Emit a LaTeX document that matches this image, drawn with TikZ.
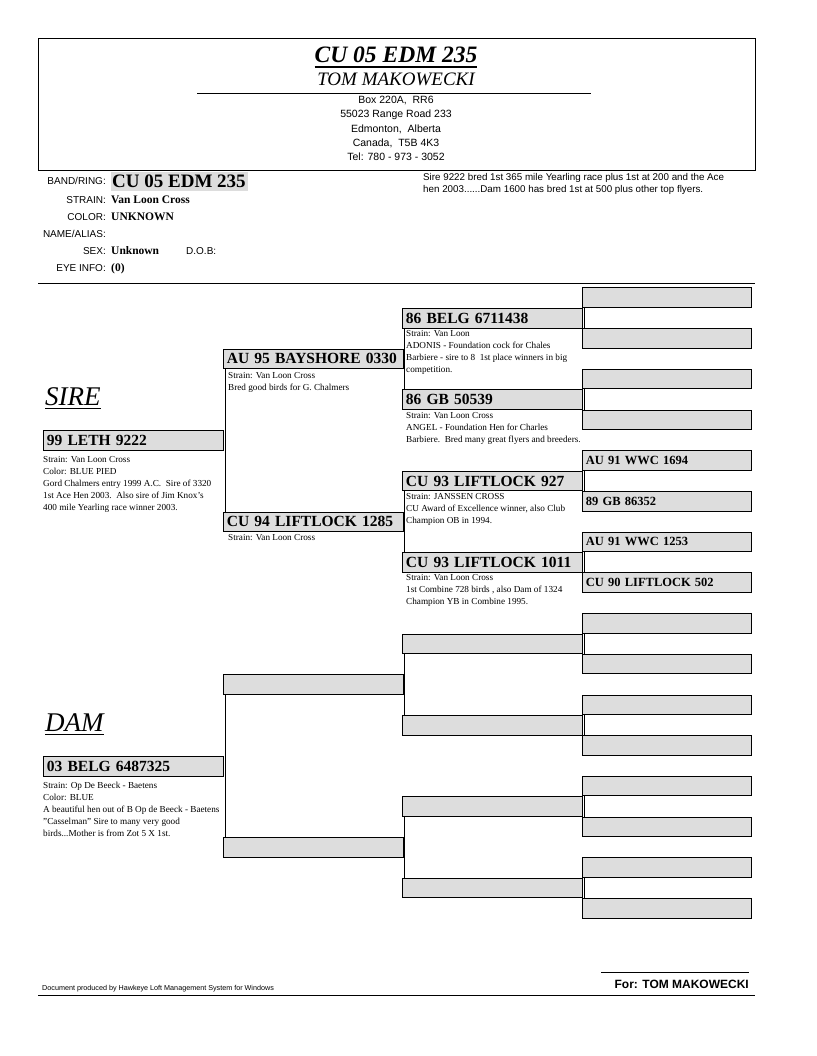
\documentclass[tikz,border=0pt]{standalone}
\usepackage{fontspec}
\setmainfont{Liberation Serif}
\setsansfont{Liberation Sans}
\definecolor{boxgray}{HTML}{DDDDDD}
\begin{document}
\begin{tikzpicture}[x=1pt,y=-1pt,
 pbox/.style={draw=black,line width=0.9pt,fill=boxgray,anchor=north west,minimum height=19.5pt,inner xsep=3.5pt,inner ysep=0pt,align=left},
 bigname/.style={pbox,text width=173pt,font=\fontsize{15.5}{16}\selectfont\bfseries},
 smallname/.style={pbox,text width=162pt,font=\fontsize{12.5}{13}\selectfont\bfseries},
 note/.style={anchor=north west,inner sep=0pt,align=left,font=\fontsize{9.2}{12}\selectfont},
 lbl/.style={anchor=base east,inner sep=0pt,font=\sffamily\fontsize{10}{12}\selectfont},
 val/.style={anchor=base west,inner sep=0pt,font=\fontsize{11.5}{12}\selectfont\bfseries},
 addr/.style={inner sep=0pt,font=\sffamily\fontsize{10.5}{12}\selectfont},
 link/.style={line width=0.9pt},
 rule/.style={line width=0.8pt}
]
\useasboundingbox (0,0) rectangle (816,1056);
% header
\draw[rule] (38,38) rectangle (755,170);
\node (title) [inner sep=0pt,anchor=base,font=\fontsize{23.5}{24}\selectfont\bfseries\itshape] at (396,63) {CU 05 EDM 235};
\draw[line width=1.6pt] ([yshift=-4pt]title.base west) -- ([yshift=-4pt]title.base east);
\node (owner) [inner sep=0pt,anchor=base,font=\fontsize{19}{20}\selectfont\itshape] at (396,86) {TOM MAKOWECKI};
\draw[rule] (197,93) -- (591,93);
\node[addr] (a1) at (396,101) {Box 220A,\ \ RR6};
\node[addr] (a2) at (396,115) {55023 Range Road 233};
\node[addr] (a3) at (396,129) {Edmonton,\ \ Alberta};
\node[addr] (a4) at (396,143) {Canada,\ \ T5B 4K3};
\node[addr] (a5) at (396,157) {Tel: 780 - 973 - 3052};
% info
\node[fill=boxgray,anchor=north west,inner sep=0pt,minimum height=19pt,minimum width=137pt] (bandbg) at (111,172) {};
\node[anchor=base west,inner sep=0pt,font=\fontsize{19}{19}\selectfont\bfseries] (bandval) at (112,188) {CU 05 EDM 235};
\node[lbl] (l1) at (106,185) {BAND/RING:};
\node[lbl] (l2) at (106,204) {STRAIN:};
\node[val] (v2) at (111,204) {Van Loon Cross};
\node[lbl] (l3) at (106,221) {COLOR:};
\node[val] (v3) at (111,221) {UNKNOWN};
\node[lbl] (l4) at (106,238) {NAME/ALIAS:};
\node[lbl] (l5) at (106,255) {SEX:};
\node[val] (v5) at (111,255) {Unknown};
\node[anchor=base west,inner sep=0pt,font=\sffamily\fontsize{10}{12}\selectfont] (dob) at (186,255) {D.O.B:};
\node[lbl] (l6) at (106,272) {EYE INFO:};
\node[val] (v6) at (111,272) {(0)};
\node[anchor=north west,inner sep=0pt,align=left,font=\sffamily\fontsize{9.8}{12}\selectfont] (remark) at (423,173.5) {Sire 9222 bred 1st 365 mile Yearling race plus 1st at 200 and the Ace\\hen 2003......Dam 1600 has bred 1st at 500 plus other top flyers.};
\draw[rule] (38,283) -- (755,283);
% sire / dam labels
\node (sire) [anchor=base west,inner sep=0pt,font=\fontsize{27}{27}\selectfont\itshape] at (45,405) {SIRE};
\draw[line width=0.8pt] ([yshift=-3pt]sire.base west) -- ([yshift=-3pt]sire.base east);
\node (dam) [anchor=base west,inner sep=0pt,font=\fontsize{27}{27}\selectfont\itshape] at (45,731) {DAM};
\draw[line width=0.8pt] ([yshift=-3pt]dam.base west) -- ([yshift=-3pt]dam.base east);
% generation 4 (drawn first)
\foreach \k/\t in {0/,1/,2/,3/,4/AU 91 WWC 1694,5/89 GB 86352,6/AU 91 WWC 1253,7/CU 90 LIFTLOCK 502,8/,9/,10/,11/,12/,13/,14/,15/}{
  \pgfmathsetmacro{\yy}{287.5+40.7*\k}
  \node[smallname] (g4-\k) at (582,\yy) {\t};
}
% generation 3
\foreach \j/\t in {0/86 BELG 6711438,1/86 GB 50539,2/CU 93 LIFTLOCK 927,3/CU 93 LIFTLOCK 1011,4/,5/,6/,7/}{
  \pgfmathsetmacro{\yy}{308+81.4*\j}
  \node[bigname] (g3-\j) at (402,\yy) {\t};
}
% generation 2
\foreach \i/\t in {0/AU 95 BAYSHORE 0330,1/CU 94 LIFTLOCK 1285,2/,3/}{
  \pgfmathsetmacro{\yy}{348.7+162.8*\i}
  \node[bigname] (g2-\i) at (223,\yy) {\t};
}
% generation 1
\node[bigname] (g1-0) at (43,430) {99 LETH 9222};
\node[bigname] (g1-1) at (43,756) {03 BELG 6487325};
% connectors
\draw[link] ([xshift=2pt]g2-0.south west) -- ([xshift=2pt]g2-1.north west);
\draw[link] ([xshift=2pt]g2-2.south west) -- ([xshift=2pt]g2-3.north west);
\foreach \a/\b in {0/1,2/3,4/5,6/7}{
  \draw[link] ([xshift=2pt]g3-\a.south west) -- ([xshift=2pt]g3-\b.north west);
}
\foreach \a/\b in {0/1,2/3,4/5,6/7,8/9,10/11,12/13,14/15}{
  \draw[link] ([xshift=2pt]g4-\a.south west) -- ([xshift=2pt]g4-\b.north west);
}
% notes
\node[note] (n-sire) at (43,456) {Strain: Van Loon Cross\\Color: BLUE PIED\\Gord Chalmers entry 1999 A.C.\ \ Sire of 3320\\1st Ace Hen 2003.\ \ Also sire of Jim Knox's\\400 mile Yearling race winner 2003.};
\node[note] (n-dam) at (43,782) {Strain: Op De Beeck - Baetens\\Color: BLUE\\A beautiful hen out of B Op de Beeck - Baetens\\"Casselman" Sire to many very good\\birds...Mother is from Zot 5 X 1st.};
\node[note] (n-g20) at (228,372) {Strain: Van Loon Cross\\Bred good birds for G. Chalmers};
\node[note] (n-g21) at (228,534) {Strain: Van Loon Cross};
\node[note] (n-g30) at (406,330.5) {Strain: Van Loon\\ADONIS - Foundation cock for Chales\\Barbiere - sire to 8\ \ 1st place winners in big\\competition.};
\node[note] (n-g31) at (406,412) {Strain: Van Loon Cross\\ANGEL - Foundation Hen for Charles\\Barbiere.\ \ Bred many great flyers and breeders.};
\node[note] (n-g32) at (406,493) {Strain: JANSSEN CROSS\\CU Award of Excellence winner, also Club\\Champion OB in 1994.};
\node[note] (n-g33) at (406,574) {Strain: Van Loon Cross\\1st Combine 728 birds , also Dam of 1324\\Champion YB in Combine 1995.};
% footer
\node[anchor=base west,inner sep=0pt,font=\sffamily\fontsize{7.2}{8}\selectfont] (prod) at (42,990) {Document produced by Hawkeye Loft Management System for Windows};
\draw[rule] (601,972) -- (749,972);
\node[anchor=base east,inner sep=0pt,font=\sffamily\bfseries\fontsize{12}{13}\selectfont] (for) at (749,988) {For: TOM MAKOWECKI};
\draw[rule] (38,995) -- (755,995);
\end{tikzpicture}
\end{document}
